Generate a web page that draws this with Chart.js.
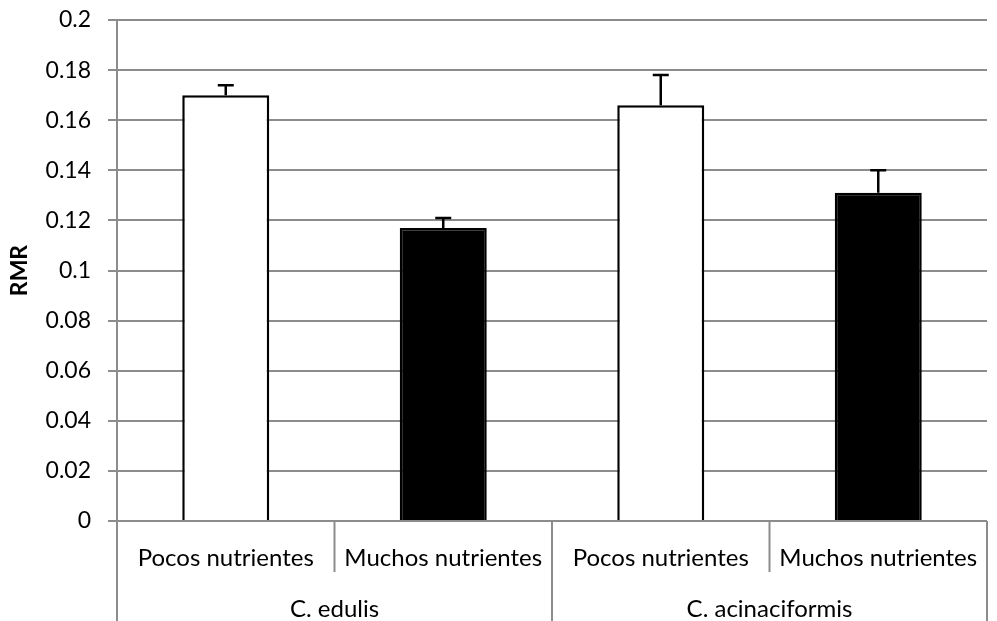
<!DOCTYPE html>
<html>
<head>
<meta charset="utf-8">
<script src="https://cdn.jsdelivr.net/npm/chart.js@4"></script>
<style>
  html, body { margin: 0; padding: 0; background: #fff; }
  #wrap { width: 997px; height: 621px; }
</style>
</head>
<body>
<div id="wrap"><canvas id="grafico"></canvas></div>
<script>
// datos
var categorias = ['Pocos nutrientes', 'Muchos nutrientes', 'Pocos nutrientes', 'Muchos nutrientes'];
var especies = ['C. edulis', 'C. acinaciformis'];
var rmr = [0.170, 0.117, 0.166, 0.131];
var errorSup = [0.004, 0.004, 0.012, 0.009];
var colores = ['#ffffff', '#000000', '#ffffff', '#000000'];
var yMin = 0, yMax = 0.2, yPaso = 0.02;

var gris = '#8c8c8c';
var fuente = 'Lato, "Open Sans", sans-serif';

// barras de error (solo hacia arriba)
var pluginError = {
  id: 'barrasError',
  afterDatasetsDraw: function (chart) {
    var ctx = chart.ctx;
    var y = chart.scales.y;
    var meta = chart.getDatasetMeta(0);
    ctx.save();
    ctx.strokeStyle = '#000';
    ctx.lineWidth = 2.5;
    meta.data.forEach(function (bar, i) {
      var yTop = y.getPixelForValue(rmr[i] + errorSup[i]);
      ctx.beginPath();
      ctx.moveTo(bar.x, bar.y);
      ctx.lineTo(bar.x, yTop);
      ctx.moveTo(bar.x - 8, yTop);
      ctx.lineTo(bar.x + 8, yTop);
      ctx.stroke();
    });
    ctx.restore();
  }
};

// separadores y etiquetas de segundo nivel del eje x
var pluginGrupos = {
  id: 'grupos',
  afterDraw: function (chart) {
    var ctx = chart.ctx;
    var x = chart.scales.x;
    var top = chart.chartArea.bottom;
    var fondo = chart.height;
    var px = categorias.map(function (c, i) { return x.getPixelForValue(i); });
    ctx.save();
    ctx.strokeStyle = gris;
    ctx.lineWidth = 2;
    var lineas = [[x.left, fondo], [(px[0] + px[1]) / 2, top + 51], [(px[1] + px[2]) / 2, fondo],
                  [(px[2] + px[3]) / 2, top + 51], [x.right, fondo]];
    lineas.forEach(function (l) {
      ctx.beginPath();
      ctx.moveTo(l[0], top);
      ctx.lineTo(l[0], l[1]);
      ctx.stroke();
    });
    ctx.fillStyle = '#000';
    ctx.font = '24px ' + fuente;
    ctx.textAlign = 'center';
    ctx.textBaseline = 'middle';
    ctx.fillText(especies[0], (px[0] + px[1]) / 2, top + 88);
    ctx.fillText(especies[1], (px[2] + px[3]) / 2, top + 88);
    ctx.restore();
  }
};

var canvas = document.getElementById('grafico');
var ctx = canvas.getContext('2d');

var miGrafico = new Chart(ctx, {
  type: 'bar',
  data: {
    labels: categorias,
    datasets: [{
      label: 'RMR',
      data: rmr,
      backgroundColor: colores,
      borderColor: '#000',
      borderWidth: 2.5,
      barPercentage: 0.4,
      categoryPercentage: 1
    }]
  },
  options: {
    responsive: true,
    maintainAspectRatio: false,
    animation: false,
    layout: { padding: { top: 0, right: 10, left: 0, bottom: 0 } },
    plugins: {
      legend: { display: false },
      tooltip: { enabled: false }
    },
    scales: {
      x: {
        grid: { display: false, drawOnChartArea: false, drawTicks: false },
        border: { display: false },
        ticks: { color: '#000', font: { family: fuente, size: 24 }, padding: 23, maxRotation: 0, autoSkip: false },
        afterFit: function (s) { s.height = 100; s.paddingLeft = 0; s.paddingRight = 0; }
      },
      y: {
        min: yMin,
        max: yMax,
        ticks: {
          stepSize: yPaso,
          color: '#000',
          font: { family: fuente, size: 23 },
          padding: 17,
          callback: function (v) { return String(+v.toFixed(2)); }
        },
        grid: { color: gris, lineWidth: 2, tickLength: 9, drawTicks: true },
        border: { display: true, color: gris, width: 2 },
        title: {
          display: true,
          text: 'RMR',
          color: '#000',
          font: { family: fuente, size: 23, weight: 'bold' },
          padding: { top: 6, bottom: 0 }
        },
        afterFit: function (s) { s.width = 117; s.paddingTop = 20; s.paddingBottom = 0; }
      }
    }
  },
  plugins: [pluginError, pluginGrupos]
});
</script>
</body>
</html>
